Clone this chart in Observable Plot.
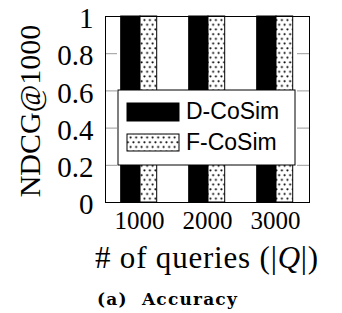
<!DOCTYPE html>
<html><head><meta charset="utf-8">
<script src="https://cdn.jsdelivr.net/npm/d3@7"></script>
<script src="https://cdn.jsdelivr.net/npm/@observablehq/plot@0.6"></script>
<style>body{margin:0;background:#fff}</style>
</head><body><div id="chart"></div>
<script>
const queries = ["1000", "2000", "3000"];
const methods = ["D-CoSim", "F-CoSim"];
const dCoSim = [1.0, 1.0, 1.0];
const fCoSim = [1.0, 1.0, 1.0];
const yTicks = [0, 0.2, 0.4, 0.6, 0.8, 1];
const yTickLabels = ["0", "0.2", "0.4", "0.6", "0.8", "1"];
const yTitle = "NDCG@1000";
const xTitleParts = ["# of queries (|", "Q", "|)"];
const caption = "(a)  Accuracy";

const W = 342, H = 313, ml = 105, mr = 33, mt = 16, mb = 111;
const plotW = W - ml - mr;

const dData = queries.map((q, i) => ({q, v: dCoSim[i]}));
const fData = queries.map((q, i) => ({q, v: fCoSim[i]}));

const plot = Plot.plot({
  width: W, height: H,
  marginLeft: ml, marginRight: mr, marginTop: mt, marginBottom: mb,
  style: {fontFamily: "'Liberation Serif', serif", background: "white", color: "black", overflow: "visible"},
  x: {domain: queries, padding: 0, label: null},
  y: {domain: [0, 1], label: null},
  marks: [
    Plot.tickY(yTicks, {y: d => d, stroke: "#999", insetRight: plotW - 12}),
    Plot.tickY(yTicks, {y: d => d, stroke: "#999", insetLeft: plotW - 12}),
    Plot.axisY(yTicks, {anchor: "left", tickSize: 0, tickPadding: 12, fontSize: 29, dy: 2.5, label: null,
      tickFormat: d => yTickLabels[yTicks.indexOf(d)]}),
    Plot.axisX({anchor: "bottom", tickSize: 0, tickPadding: 9, fontSize: 25, label: null}),
    Plot.barY(dData, {x: "q", y: "v", fill: "black", stroke: "black", strokeWidth: 1, insetLeft: 15.7, insetRight: 33}),
    Plot.barY(fData, {x: "q", y: "v", fill: "url(#dots)", stroke: "black", strokeWidth: 1, insetLeft: 35, insetRight: 16.3}),
    Plot.frame({stroke: "black", strokeWidth: 1})
  ]
});

const svg = d3.select(plot);
const defs = svg.insert("defs", ":first-child");
const pat = defs.append("pattern").attr("id", "dots").attr("patternUnits", "userSpaceOnUse")
  .attr("width", 5.5).attr("height", 9.4);
pat.append("rect").attr("width", 5.5).attr("height", 9.4).attr("fill", "white");
pat.append("circle").attr("cx", 1.4).attr("cy", 1.2).attr("r", 1.05).attr("fill", "black");
pat.append("circle").attr("cx", 4.15).attr("cy", 5.9).attr("r", 1.05).attr("fill", "black");

// legend
const lg = svg.append("g").attr("text-anchor", "start");
lg.append("rect").attr("x", 118).attr("y", 90).attr("width", 177).attr("height", 75)
  .attr("fill", "white").attr("stroke", "black").attr("stroke-width", 1);
const fills = ["black", "url(#dots)"];
const swY = [103, 134], swH = [18, 17], txY = [118.5, 149.5];
methods.forEach((m, i) => {
  lg.append("rect").attr("x", 127).attr("y", swY[i]).attr("width", 52).attr("height", swH[i])
    .attr("fill", fills[i]).attr("stroke", "black").attr("stroke-width", 1);
  lg.append("text").attr("x", 186).attr("y", txY[i]).attr("text-anchor", "start")
    .attr("font-family", "'Liberation Sans', sans-serif")
    .attr("font-size", 23).attr("fill", "black").text(m);
});

// y title
svg.append("text").attr("transform", "translate(40,111) rotate(-90)").attr("text-anchor", "middle")
  .attr("font-size", 30).attr("fill", "black").text(yTitle);

// x title
const xt = svg.append("text").attr("x", ml + plotW / 2).attr("y", 268).attr("text-anchor", "middle")
  .attr("font-size", 31).attr("letter-spacing", 0.8).attr("fill", "black");
xt.append("tspan").text(xTitleParts[0]);
xt.append("tspan").attr("font-style", "italic").text(xTitleParts[1]);
xt.append("tspan").text(xTitleParts[2]);

// caption
svg.append("text").attr("x", 167.5).attr("y", 305).attr("text-anchor", "middle")
  .attr("xml:space", "preserve").style("white-space", "pre")
  .attr("font-family", "'DejaVu Serif', serif").attr("font-weight", "bold").attr("font-size", 17)
  .attr("letter-spacing", 1.2).attr("fill", "black").text(caption);

document.getElementById("chart").appendChild(plot);
</script>
</body></html>
